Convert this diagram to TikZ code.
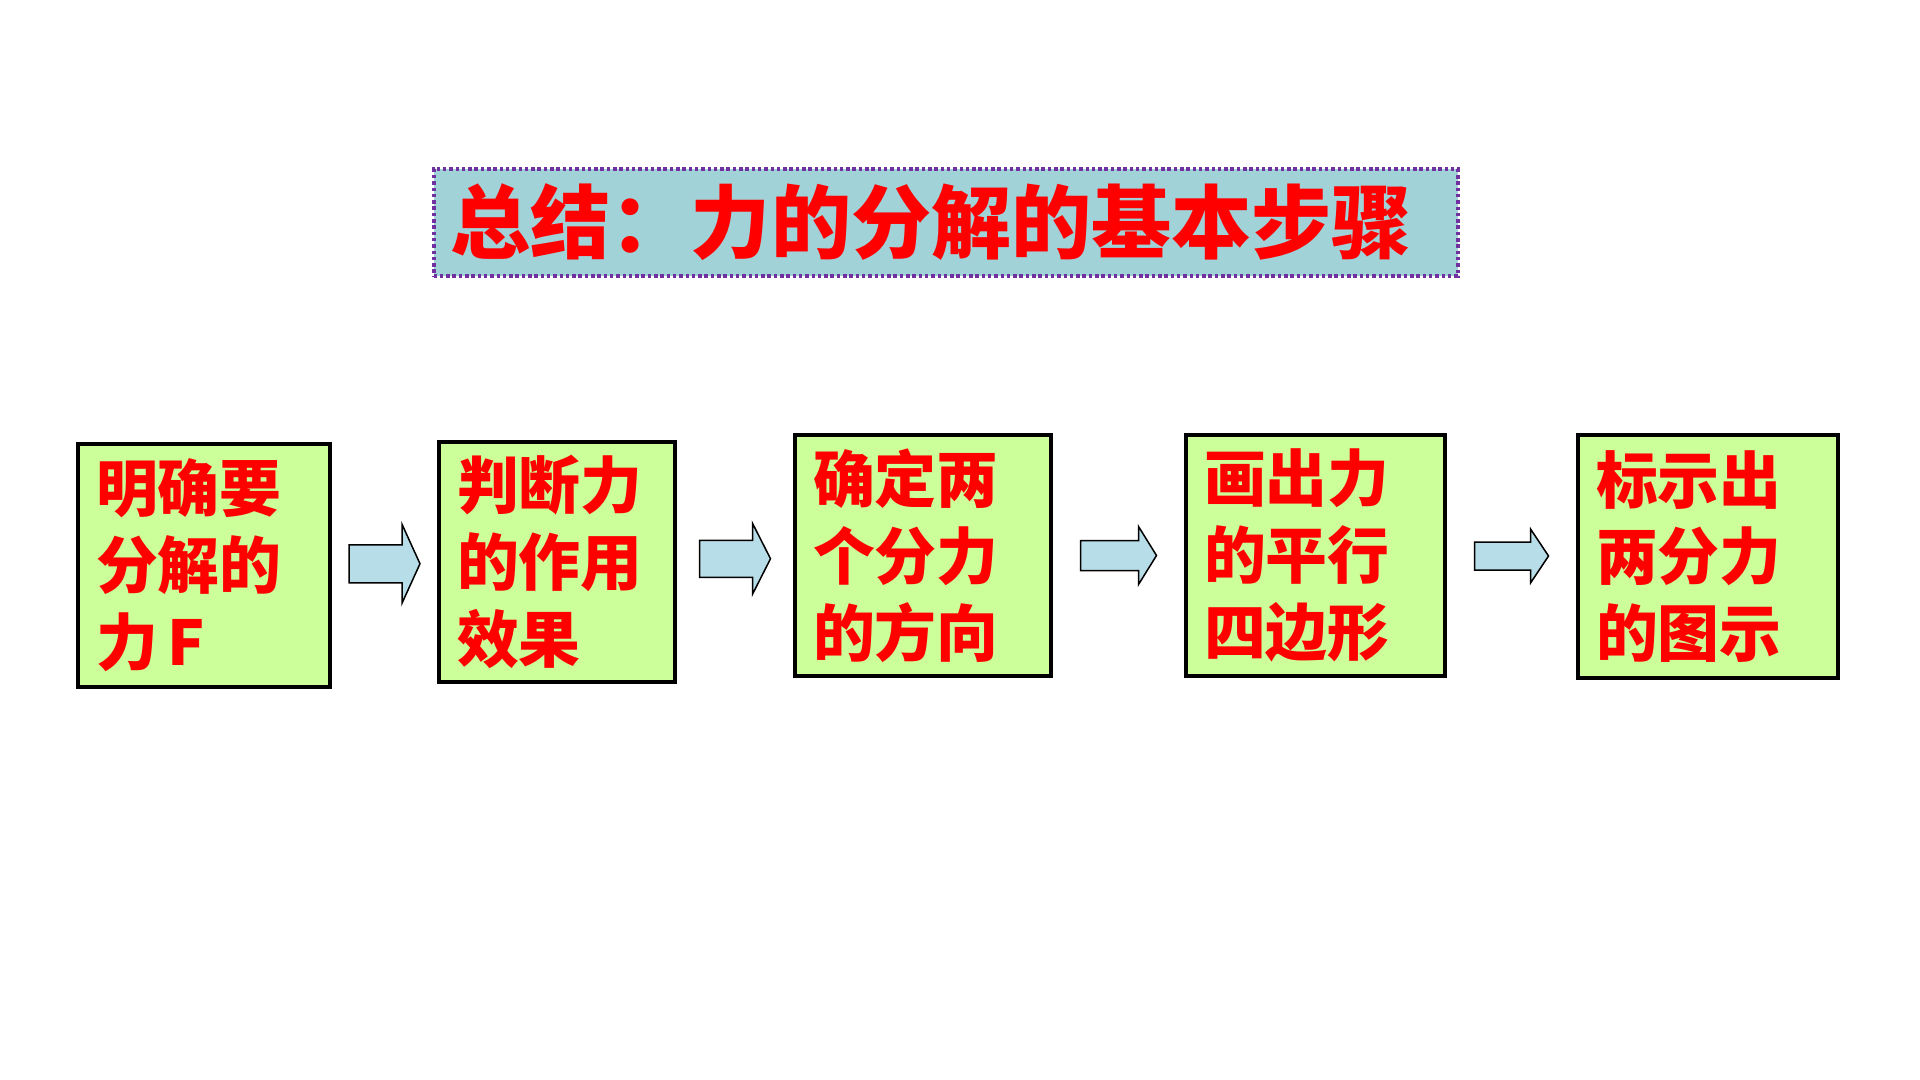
\documentclass[tikz,border=0pt]{standalone}
\usepackage{fontspec}
\newfontfamily\cjk{Noto Sans CJK SC}
\usetikzlibrary{calc}
\definecolor{titlefill}{RGB}{160,210,216}
\definecolor{titleline}{RGB}{112,48,160}
\definecolor{stepfill}{RGB}{204,255,153}
\definecolor{arrowfill}{RGB}{183,221,232}

\begin{document}
\begin{tikzpicture}[
  titlebox/.style={draw=titleline, line width=0.04cm, dash pattern=on 0.035cm off 0.028cm,
             fill=titlefill, text=red, align=left, inner xsep=0.17cm, text width=9.9cm,
             minimum height=1.07cm, font=\cjk\bfseries\fontsize{22.8pt}{26pt}\selectfont},
  stepbox/.style 2 args={draw, line width=0.04cm, fill=stepfill, text=red, align=left,
             inner xsep=0.18cm, text width=#1, minimum height=#2,
             font=\cjk\bfseries\fontsize{17.6pt}{21.9pt}\selectfont},
  blockarr/.style={draw, line width=0.015cm, fill=arrowfill}]

\useasboundingbox (0,0) rectangle (19.2,-10.8);

% title
\node[titlebox] (title) at (9.455,-2.225) {总结：力的分解的基本步骤};

% the five steps
\node[stepbox={2.16cm}{2.43cm}] (s1) at (2.04,-5.655) {明确要\\分解的\\力\hspace{0.15em}F};
\node[stepbox={2.00cm}{2.40cm}] (s2) at (5.57,-5.62) {判断力\\的作用\\效果};
\node[stepbox={2.20cm}{2.41cm}] (s3) at (9.23,-5.555) {确定两\\个分力\\的方向};
\node[stepbox={2.23cm}{2.41cm}] (s4) at (13.155,-5.555) {画出力\\的平行\\四边形};
\node[stepbox={2.24cm}{2.43cm}] (s5) at (17.08,-5.565) {标示出\\两分力\\的图示};

% block arrows between the steps
\foreach \a/\b/\L/\H/\S in {s1/s2/0.71/0.395/0.19, s2/s3/0.71/0.355/0.185,
                            s3/s4/0.76/0.29/0.15, s4/s5/0.74/0.27/0.14}{
  \coordinate (m) at ($(\a.east)!0.5!(\b.west)$);
  \draw[blockarr] ($(m)+({-\L/2},\S)$) -- ($(m)+({\L/2-0.18},\S)$) -- ($(m)+({\L/2-0.18},\H)$)
    -- ($(m)+({\L/2},0)$) -- ($(m)+({\L/2-0.18},-\H)$) -- ($(m)+({\L/2-0.18},-\S)$)
    -- ($(m)+({-\L/2},-\S)$) -- cycle;
}
\end{tikzpicture}
\end{document}
